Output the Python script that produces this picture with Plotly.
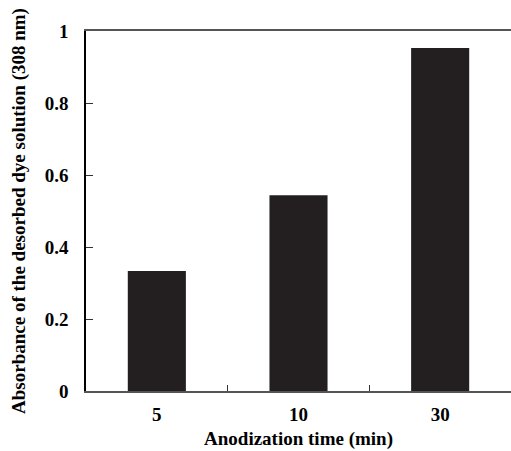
import plotly.graph_objects as go

categories = ["5", "10", "30"]
absorbance = [0.333, 0.544, 0.953]
y_ticks = [0, 0.2, 0.4, 0.6, 0.8, 1]
y_tick_labels = ["0", "0.2", "0.4", "0.6", "0.8", "1"]

font_family = "Liberation Serif"

fig = go.Figure(
    go.Bar(
        x=categories,
        y=absorbance,
        marker=dict(color="#231f20", line=dict(width=0)),
        width=0.41,
    )
)

fig.update_layout(
    width=511,
    height=451,
    margin=dict(l=86, r=0, t=31, b=60),
    paper_bgcolor="white",
    plot_bgcolor="white",
    showlegend=False,
    font=dict(family=font_family, color="black"),
)

fig.update_xaxes(
    type="category",
    range=[-0.5, 2.5],
    showline=True,
    linecolor="#555555",
    linewidth=1.5,
    mirror=True,
    ticks="inside",
    tickson="boundaries",
    ticklen=6,
    tickwidth=1,
    tickcolor="#333333",
    showgrid=False,
    ticklabelstandoff=5,
    tickfont=dict(family=font_family, size=19, weight="bold", color="black"),
    title=dict(
        text="Anodization time (min)",
        font=dict(family=font_family, size=19, weight="bold", color="black"),
        standoff=8,
    ),
)

fig.update_yaxes(
    range=[0, 1],
    tickvals=y_ticks,
    ticktext=y_tick_labels,
    showline=True,
    linecolor="black",
    linewidth=1.5,
    ticks="inside",
    ticklen=7,
    tickwidth=1,
    tickcolor="#333333",
    showgrid=False,
    zeroline=False,
    ticklabelstandoff=12,
    tickfont=dict(family=font_family, size=19, weight="bold", color="black"),
    title=dict(
        text="Absorbance of the desorbed dye solution (308 nm)",
        font=dict(family=font_family, size=19, weight="bold", color="black"),
        standoff=14,
    ),
)

fig.write_html("out.html")
